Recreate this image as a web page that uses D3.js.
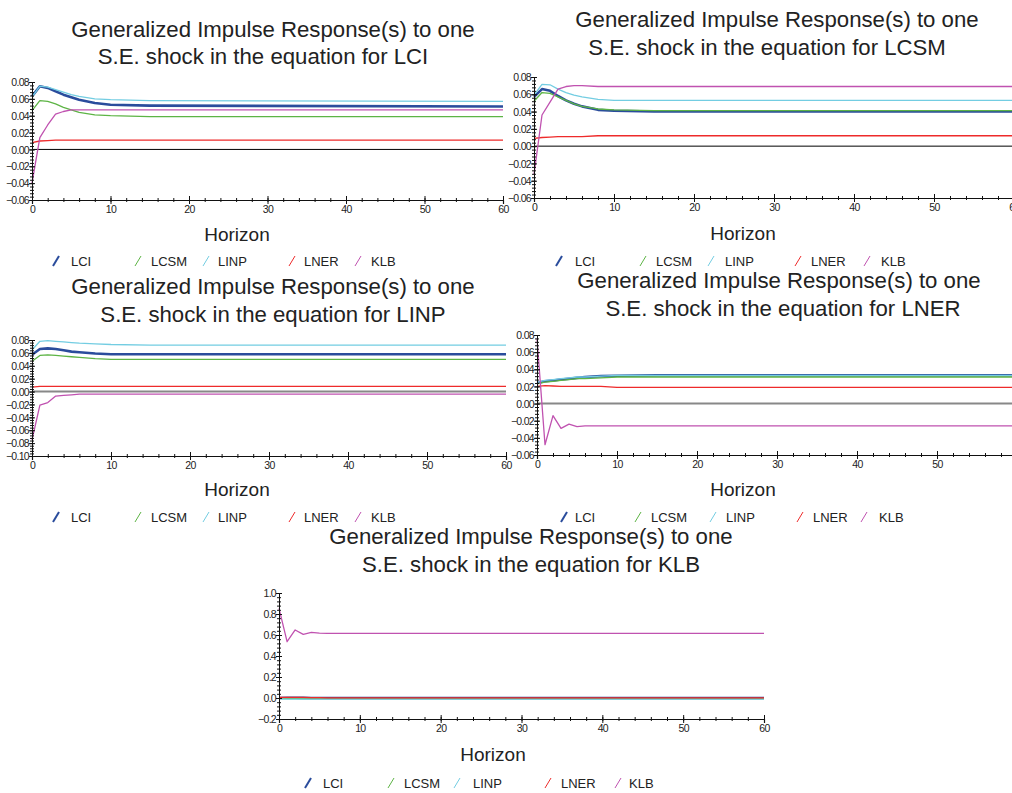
<!DOCTYPE html>
<html>
<head>
<meta charset="utf-8">
<script src="https://cdn.jsdelivr.net/npm/d3@7"></script>
<style>
  body { margin: 0; background: #fff; }
  svg { display: block; }
  .tick text { font-family: "Liberation Sans Narrow", "Liberation Sans", Arial, sans-serif; font-size: 10.5px; letter-spacing: -0.7px; fill: #222; }
  .title { font-family: "Liberation Sans", Arial, sans-serif; font-size: 22.2px; fill: #222; }
  .xlabel { font-family: "Liberation Sans", Arial, sans-serif; font-size: 19px; fill: #222; }
  .legend text { font-family: "Liberation Sans", Arial, sans-serif; font-size: 13px; fill: #222; }
</style>
</head>
<body>
<div id="chart"></div>
<script>
// horizons at which values were read (flat after 15)
const horizons = [0, 1, 2, 3, 4, 5, 6, 8, 10, 15, 60];
const variables = ["LCI", "LCSM", "LINP", "LNER", "KLB"];
const xTicks = [0, 10, 20, 30, 40, 50, 60];

// responses to a shock in LCI
const shockLCI = {
    LCI:  [0.063, 0.075, 0.073, 0.069, 0.065, 0.062, 0.059, 0.055, 0.053, 0.052, 0.051],
    LCSM: [0.046, 0.058, 0.057, 0.054, 0.050, 0.047, 0.044, 0.041, 0.040, 0.039, 0.039],
    LINP: [0.062, 0.075, 0.074, 0.071, 0.068, 0.065, 0.063, 0.060, 0.059, 0.058, 0.057],
    LNER: [0.008, 0.010, 0.0105, 0.011, 0.011, 0.011, 0.011, 0.011, 0.011, 0.011, 0.011],
    KLB:  [-0.040, 0.014, 0.029, 0.042, 0.045, 0.047, 0.047, 0.047, 0.047, 0.047, 0.047]
};
// responses to a shock in LCSM
const shockLCSM = {
    LCI:  [0.057, 0.066, 0.064, 0.058, 0.053, 0.049, 0.046, 0.042, 0.041, 0.040, 0.040],
    LCSM: [0.052, 0.062, 0.061, 0.057, 0.053, 0.049, 0.046, 0.043, 0.042, 0.041, 0.041],
    LINP: [0.059, 0.0715, 0.071, 0.066, 0.062, 0.059, 0.057, 0.054, 0.053, 0.053, 0.053],
    LNER: [0.009, 0.010, 0.0105, 0.011, 0.011, 0.011, 0.011, 0.012, 0.012, 0.012, 0.012],
    KLB:  [-0.033, 0.036, 0.051, 0.066, 0.069, 0.070, 0.070, 0.069, 0.069, 0.069, 0.069]
};
// responses to a shock in LINP
const shockLINP = {
    LCI:  [0.057, 0.066, 0.067, 0.066, 0.064, 0.062, 0.061, 0.059, 0.058, 0.058, 0.058],
    LCSM: [0.047, 0.056, 0.057, 0.056, 0.055, 0.054, 0.053, 0.051, 0.050, 0.050, 0.050],
    LINP: [0.0645, 0.078, 0.079, 0.078, 0.077, 0.076, 0.075, 0.074, 0.073, 0.072, 0.072],
    LNER: [0.007, 0.008, 0.008, 0.008, 0.008, 0.008, 0.008, 0.008, 0.008, 0.008, 0.008],
    KLB:  [-0.075, -0.021, -0.017, -0.007, -0.006, -0.005, -0.004, -0.004, -0.004, -0.004, -0.004]
};
// responses to a shock in LNER
const shockLNER = {
    LCI:  [0.024, 0.026, 0.027, 0.028, 0.029, 0.030, 0.031, 0.032, 0.0325, 0.033, 0.033],
    LCSM: [0.023, 0.025, 0.026, 0.027, 0.028, 0.029, 0.029, 0.030, 0.031, 0.031, 0.031],
    LINP: [0.025, 0.027, 0.028, 0.029, 0.030, 0.031, 0.031, 0.032, 0.033, 0.033, 0.033],
    LNER: [0.020, 0.021, 0.0205, 0.020, 0.020, 0.020, 0.020, 0.020, 0.019, 0.019, 0.019],
    KLB:  [0.076, -0.048, -0.014, -0.029, -0.024, -0.027, -0.026, -0.026, -0.026, -0.026, -0.026]
};
// responses to a shock in KLB
const shockKLB = {
    LCI:  [0.000, 0.002, 0.002, 0.001, 0.000, 0.000, 0.000, 0.000, 0.000, 0.000, 0.000],
    LCSM: [-0.004, -0.005, -0.005, -0.005, -0.005, -0.005, -0.005, -0.005, -0.005, -0.005, -0.005],
    LINP: [-0.008, -0.010, -0.010, -0.010, -0.010, -0.010, -0.010, -0.010, -0.010, -0.010, -0.010],
    LNER: [0.006, 0.005, 0.006, 0.005, 0.004, 0.003, 0.002, 0.002, 0.002, 0.002, 0.002],
    KLB:  [0.854, 0.536, 0.648, 0.606, 0.625, 0.617, 0.616, 0.616, 0.616, 0.616, 0.616]
};

const color = {
    LCI: "#2a4c9c",
    LCSM: "#5db445",
    LINP: "#73cde2",
    LNER: "#ee2b2b",
    KLB: "#c052b0"
};
const strokeW = { LCI: 2.6, LCSM: 1.3, LINP: 1.3, LNER: 1.3, KLB: 1.3 };

const panels = [
    { shock: "LCI", data: shockLCI, x0: 32, x1: 503, yTop: 82, yBot: 200,
      domain: [-0.06, 0.08], step: 0.02, fmt: ".2f", zero: "#000", zeroW: 1,
      t1: [273, 37], t2: [263, 64], hz: [237, 241], legY: 266,
      leg: [[53, 71], [135, 151], [203, 218], [289, 304], [355, 371]] },
    { shock: "LCSM", data: shockLCSM, x0: 534, x1: 1014, yTop: 77, yBot: 198,
      domain: [-0.06, 0.08], step: 0.02, fmt: ".2f", zero: "#000", zeroW: 1,
      t1: [777, 27], t2: [767, 55], hz: [743, 240], legY: 266,
      leg: [[556, 575], [640, 656], [708, 725], [795, 811], [864, 881]] },
    { shock: "LINP", data: shockLINP, x0: 32, x1: 506, yTop: 340, yBot: 456,
      domain: [-0.10, 0.08], step: 0.02, fmt: ".2f", zero: "#888", zeroW: 2,
      t1: [273, 294], t2: [273, 322], hz: [237, 496], legY: 522,
      leg: [[53, 71], [135, 151], [203, 218], [289, 304], [355, 371]] },
    { shock: "LNER", data: shockLNER, x0: 537, x1: 1017, yTop: 335, yBot: 455,
      domain: [-0.06, 0.08], step: 0.02, fmt: ".2f", zero: "#888", zeroW: 2,
      t1: [779, 288], t2: [783, 316], hz: [743, 496], legY: 522,
      leg: [[561, 575], [635, 651], [710, 726], [797, 813], [861, 879]] },
    { shock: "KLB", data: shockKLB, x0: 279, x1: 764, yTop: 593, yBot: 719,
      domain: [-0.2, 1.0], step: 0.2, fmt: ".1f", zero: "#000", zeroW: 1.2,
      t1: [531, 544], t2: [531, 572], hz: [493, 761], legY: 788,
      leg: [[305, 323], [388, 404], [454, 473], [545, 561], [615, 629]] }
];

const svg = d3.select("#chart")
    .append("svg")
    .attr("width", 1012)
    .attr("height", 793);

panels.forEach(drawPanel);

function drawPanel(p) {
    const g = svg.append("g");

    const x = d3.scaleLinear().domain([0, 60]).range([p.x0, p.x1]);
    const y = d3.scaleLinear().domain(p.domain).range([p.yBot, p.yTop]);

    const nSteps = Math.round((p.domain[1] - p.domain[0]) / p.step);
    const yMajor = d3.range(nSteps + 1).map(i => p.domain[0] + i * p.step);
    const yMinor = d3.range(nSteps * 5 + 1).map(i => p.domain[0] + i * p.step / 5);
    const xMinor = d3.range(0, 61, 2);

    // titles
    g.append("text").attr("class", "title")
        .attr("x", p.t1[0]).attr("y", p.t1[1]).attr("text-anchor", "middle")
        .text("Generalized Impulse Response(s) to one");
    g.append("text").attr("class", "title")
        .attr("x", p.t2[0]).attr("y", p.t2[1]).attr("text-anchor", "middle")
        .text("S.E. shock in the equation for " + p.shock);

    // zero line
    g.append("line")
        .attr("x1", x(0)).attr("x2", x(60))
        .attr("y1", y(0)).attr("y2", y(0))
        .attr("stroke", p.zero).attr("stroke-width", p.zeroW);

    // series
    const line = d3.line()
        .x((d, i) => x(horizons[i]))
        .y(d => y(d));
    variables.forEach(v => {
        g.append("path")
            .datum(p.data[v])
            .attr("fill", "none")
            .attr("stroke", color[v])
            .attr("stroke-width", strokeW[v])
            .attr("stroke-linejoin", "round")
            .attr("d", line);
    });

    // y axis: labels + crossing ticks
    const yl = g.append("g").attr("transform", `translate(${p.x0},0)`)
        .call(d3.axisLeft(y).tickValues(yMajor).tickSize(3).tickPadding(0).tickFormat(d3.format(p.fmt)));
    yl.select(".domain").attr("stroke", "#111");
    yl.selectAll(".tick text").attr("dy", "0.35em");
    g.append("g").attr("transform", `translate(${p.x0},0)`)
        .call(d3.axisRight(y).tickValues(yMajor).tickSize(3).tickFormat(""))
        .select(".domain").remove();
    g.append("g").attr("transform", `translate(${p.x0},0)`)
        .call(d3.axisLeft(y).tickValues(yMinor).tickSize(2).tickFormat(""))
        .select(".domain").remove();
    g.append("g").attr("transform", `translate(${p.x0},0)`)
        .call(d3.axisRight(y).tickValues(yMinor).tickSize(2).tickFormat(""))
        .select(".domain").remove();

    // x axis
    const xl = g.append("g").attr("transform", `translate(0,${p.yBot})`)
        .call(d3.axisBottom(x).tickValues(xTicks).tickSize(4).tickPadding(2).tickFormat(d3.format("d")));
    xl.select(".domain").attr("stroke", "#111").attr("stroke-width", 1.2);
    g.append("g").attr("transform", `translate(0,${p.yBot})`)
        .call(d3.axisTop(x).tickValues(xTicks).tickSize(4).tickFormat(""))
        .select(".domain").remove();
    g.append("g").attr("transform", `translate(0,${p.yBot})`)
        .call(d3.axisBottom(x).tickValues(xMinor).tickSize(2).tickFormat(""))
        .select(".domain").remove();
    g.append("g").attr("transform", `translate(0,${p.yBot})`)
        .call(d3.axisTop(x).tickValues(xMinor).tickSize(2).tickFormat(""))
        .select(".domain").remove();

    g.selectAll(".tick line").attr("stroke", "#111");

    // axis title
    g.append("text").attr("class", "xlabel")
        .attr("x", p.hz[0]).attr("y", p.hz[1]).attr("text-anchor", "middle")
        .text("Horizon");

    // legend
    const leg = g.append("g").attr("class", "legend");
    variables.forEach((v, i) => {
        const [sx, tx] = p.leg[i];
        leg.append("line")
            .attr("x1", sx).attr("y1", p.legY)
            .attr("x2", sx + 6).attr("y2", p.legY - 10)
            .attr("stroke", color[v])
            .attr("stroke-width", v === "LCI" ? 2 : 1);
        leg.append("text")
            .attr("x", tx).attr("y", p.legY)
            .text(v);
    });
}
</script>
</body>
</html>
